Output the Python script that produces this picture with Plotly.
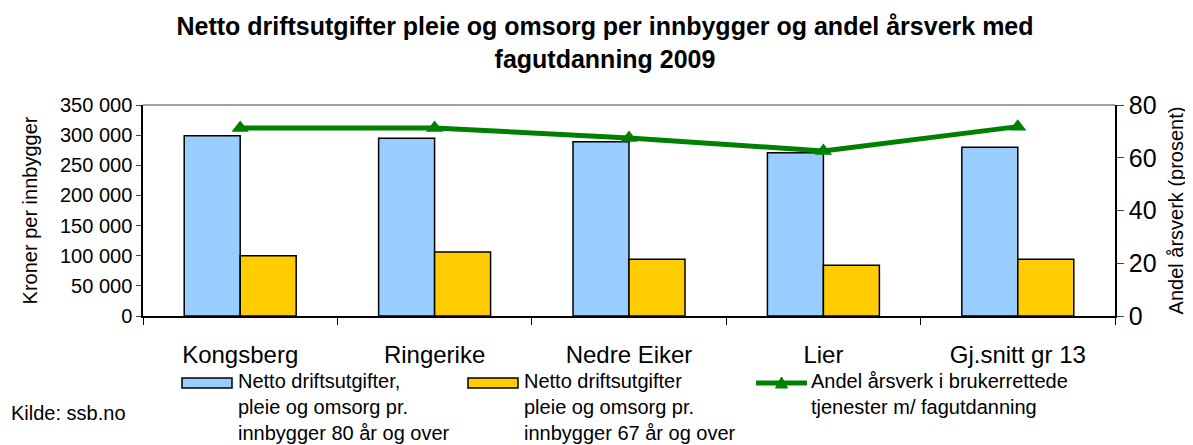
import plotly.graph_objects as go

categories = ["Kongsberg", "Ringerike", "Nedre Eiker", "Lier", "Gj.snitt gr 13"]
utg_80 = [299000, 295000, 289000, 271000, 280000]
utg_67 = [100000, 106000, 94000, 84000, 94000]
andel = [71.3, 71.3, 67.5, 62.6, 71.8]

name_80 = "Netto driftsutgifter,<br>pleie og omsorg pr.<br>innbygger 80 år og over"
name_67 = "Netto driftsutgifter<br>pleie og omsorg pr.<br>innbygger 67 år og over"
name_andel = "Andel årsverk i brukerrettede<br>tjenester m/ fagutdanning"

font = "Liberation Sans, Arial, sans-serif"
blue = "#99CCFF"
yellow = "#FFCC00"
green = "#008000"

# page body adds an 8px margin, so the figure is shrunk by that much
OFF = 8
W, H = 1193, 445
# plot area in screen pixels (used for margins and the hand-made legend)
L, R, T, B = 143, 1115, 105, 316


def px(x):
    return (x - L) / (R - L)


def py(y):
    return (B - y) / (B - T)


fig = go.Figure()
fig.add_trace(go.Bar(x=categories, y=utg_80, name=name_80,
                     marker=dict(color=blue, line=dict(color="black", width=1.5))))
fig.add_trace(go.Bar(x=categories, y=utg_67, name=name_67,
                     marker=dict(color=yellow, line=dict(color="black", width=1.5))))
fig.add_trace(go.Scatter(x=categories, y=andel, name=name_andel, yaxis="y2",
                         mode="lines+markers",
                         line=dict(color=green, width=5),
                         marker=dict(symbol="triangle-up", size=15, color=green)))

fig.update_layout(
    width=W - OFF, height=H - OFF,
    margin=dict(l=L - OFF, r=W - R, t=T - OFF, b=H - B, autoexpand=False),
    plot_bgcolor="white", paper_bgcolor="white",
    font=dict(family=font, color="black", size=20),
    separators=", ",
    barmode="group", bargap=0.424, bargroupgap=0,
    title=dict(text="<b>Netto driftsutgifter pleie og omsorg per innbygger og andel årsverk med<br>fagutdanning 2009</b>",
               x=(605 - OFF) / (W - OFF), xref="container", xanchor="center",
               y=1 - (35 - OFF) / (H - OFF), yanchor="middle",
               font=dict(size=25, family=font)),
    showlegend=False,
    xaxis=dict(showline=True, linecolor="black", linewidth=1.5, ticks="outside",
               tickson="boundaries", ticklen=7, tickcolor="black",
               tickfont=dict(size=24), showgrid=False, ticklabelstandoff=16),
    yaxis=dict(range=[0, 350000], dtick=50000, tickformat=",d", showline=True,
               linecolor="black", linewidth=1.5, ticks="outside", ticklen=5,
               tickfont=dict(size=20), showgrid=False, zeroline=False,
               title=dict(text="Kroner per innbygger", font=dict(size=20), standoff=17)),
    yaxis2=dict(range=[0, 80], dtick=20, overlaying="y", side="right", showline=True,
                linecolor="black", linewidth=1.5, ticks="outside", ticklen=7,
                showgrid=False, zeroline=False, tickfont=dict(size=25),
                title=dict(text="Andel årsverk (prosent)", font=dict(size=20), standoff=13)),
)

# grey frame line along the top of the plot area
fig.add_shape(type="line", xref="paper", yref="paper", x0=0, x1=1, y0=1, y1=1,
              line=dict(color="#808080", width=1.5))

# legend drawn by hand so the three entries sit in one row like the original
legend_items = [
    ("rect", blue, 182, name_80),
    ("rect", yellow, 468, name_67),
    ("line", green, 756, name_andel),
]
key_y = 383
for kind, color, x0, text in legend_items:
    if kind == "rect":
        fig.add_shape(type="rect", xref="paper", yref="paper",
                      x0=px(x0), x1=px(x0 + 50), y0=py(key_y + 5), y1=py(key_y - 5),
                      fillcolor=color, line=dict(color="black", width=1.5))
        tx = x0 + 55
    else:
        fig.add_shape(type="line", xref="paper", yref="paper",
                      x0=px(x0), x1=px(x0 + 51), y0=py(key_y), y1=py(key_y),
                      line=dict(color=color, width=5))
        cx = x0 + 25.5
        fig.add_shape(type="path", xref="paper", yref="paper",
                      path=f"M {px(cx - 6)} {py(key_y + 5)} L {px(cx + 6)} {py(key_y + 5)} "
                           f"L {px(cx)} {py(key_y - 6)} Z",
                      fillcolor=color, line=dict(color=color, width=1))
        tx = x0 + 54
    fig.add_annotation(text=text, xref="paper", yref="paper", x=px(tx), y=py(key_y - 14),
                       xanchor="left", yanchor="top", align="left", showarrow=False,
                       font=dict(size=20), borderpad=0)

fig.add_annotation(text="Kilde: ssb.no", xref="paper", yref="paper", x=px(9), y=py(413),
                   xanchor="left", yanchor="middle", showarrow=False, font=dict(size=20))

fig.write_html("out.html")
